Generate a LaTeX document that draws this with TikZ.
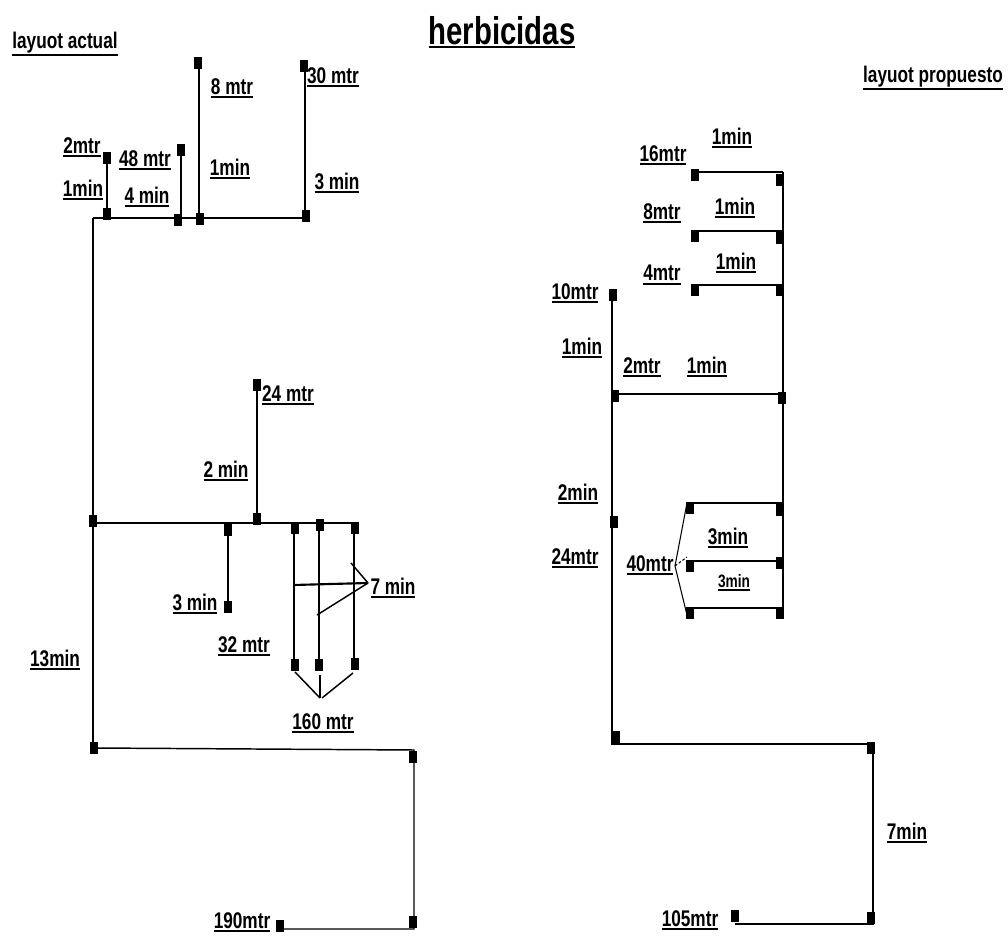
\documentclass[tikz,border=0pt]{standalone}
\usepackage{fontspec}
\newfontfamily\lf{Liberation Sans}[FakeStretch=0.76]
\newcommand\ul[1]{\setbox0\hbox{#1}\leavevmode\vtop{\copy0\kern1.2pt\hrule height 1.4pt}}
\tikzset{
  mk/.style={fill=black, draw=none, inner sep=0, minimum width=5.8pt, minimum height=9.5pt},
  lab/.style={inner sep=0, font=\lf\bfseries\fontsize{17}{19}\selectfont},
  sml/.style={inner sep=0, font=\lf\bfseries\fontsize{13.5}{15}\selectfont},
  thn/.style={line width=1.1pt},
  thk/.style={line width=2.2pt},
}
\begin{document}
\begin{tikzpicture}[x=0.75pt,y=-0.75pt]
\useasboundingbox[fill=white] (0,0) rectangle (1008,937);
% ---------- title ----------
\node[inner sep=0, font=\lf\bfseries\fontsize{29}{32}\selectfont] (title) at (502,32) {\ul{herbicidas}};
% ---------- layout actual ----------
\coordinate (a0) at (93,218); \coordinate (a1) at (306,218); \coordinate (a2) at (93,748);
\coordinate (b1) at (107,155); \coordinate (b1b) at (107,218);
\coordinate (b2) at (181,146); \coordinate (b2b) at (181,218);
\coordinate (b3) at (199,60);  \coordinate (b3b) at (199,218);
\coordinate (b4) at (305,62);  \coordinate (b4b) at (305,218);
\draw[thn] (a0) -- (a2);
\draw[thn] (a0) -- (a1);
\draw[thn] (b1b) -- (b1); \draw[thn] (b2b) -- (b2); \draw[thn] (b3b) -- (b3); \draw[thn] (b4b) -- (b4);
% middle
\coordinate (c0) at (93,523); \coordinate (c1) at (357,523);
\coordinate (c2) at (257,381); \coordinate (c2b) at (257,523);
\coordinate (c3) at (228,613); \coordinate (c3b) at (228,523);
\coordinate (v1t) at (294,523); \coordinate (v1b) at (294,665);
\coordinate (v2t) at (319,523); \coordinate (v2b) at (319,665);
\coordinate (v3t) at (354,523); \coordinate (v3b) at (354,665);
\draw[thn] (c0) -- (c1);
\draw[thn] (c2b) -- (c2); \draw[thn] (c3b) -- (c3);
\draw[thn] (v1t) -- (v1b); \draw[thn] (v2t) -- (v2b); \draw[thn] (v3t) -- (v3b);
\coordinate (sv) at (368,583);
\coordinate (s1) at (294,585); \coordinate (s2) at (351,563); \coordinate (s3) at (317,615);
\draw[line width=1.6pt] (s1) -- (sv);
\draw[thn] (s2) -- (sv); \draw[thn] (s3) -- (sv);
\coordinate (t0) at (320,698);
\coordinate (t1) at (295,672); \coordinate (t2) at (320,675); \coordinate (t3) at (353,673);
\draw[thn] (t1) -- (t0); \draw[thn] (t2) -- (t0); \draw[thn] (t3) -- (322,698);
% bottom
\coordinate (d1) at (414,750); \coordinate (d2) at (414,929); \coordinate (d3) at (280,929);
\draw[thn] (a2) -- (d1) -- (d2) -- (d3);
% markers left
\foreach \x/\y [count=\i] in {107/158,107/214,181/150,178/220,198/63,200/219,304/66,306/216,
  257/385,257/519,93/521,228/530,228/607,295/528,320/525,355/528,295/665,319/665,355/664,
  94/748,413/757,413/922,280/926}
  \node[mk] (ma\i) at (\x,\y) {};
% labels left
\node[lab] (la1) at (65,44) {\ul{layuot actual}};
\node[lab] (la2) at (82,147) {\ul{2mtr}};
\node[lab] (la3) at (83,190) {\ul{1min}};
\node[lab] (la4) at (145,160) {\ul{48 mtr}};
\node[lab] (la5) at (147,197) {\ul{4 min}};
\node[lab] (la6) at (232,88) {\ul{8 mtr}};
\node[lab] (la7) at (230,169) {\ul{1min}};
\node[lab] (la8) at (333,77) {\ul{30 mtr}};
\node[lab] (la9) at (337,183) {\ul{3 min}};
\node[lab] (la10) at (288,395) {\ul{24 mtr}};
\node[lab] (la11) at (226,471) {\ul{2 min}};
\node[lab] (la12) at (195,604) {\ul{3 min}};
\node[lab] (la13) at (244,646) {\ul{32 mtr}};
\node[lab] (la14) at (393,588) {\ul{7 min}};
\node[lab] (la15) at (323,723) {\ul{160 mtr}};
\node[lab] (la16) at (55,660) {\ul{13min}};
\node[lab] (la17) at (242,922) {\ul{190mtr}};
% ---------- layout propuesto ----------
\coordinate (r0) at (783,172); \coordinate (r1) at (783,617);
\draw[thk] (r0) -- (r1);
\foreach \x/\y [count=\i] in {695/172,695/231,695/285,613/394,690/503,690/561,690/608}
  { \coordinate (h\i) at (\x,\y); \coordinate (h\i e) at (783,\y); \draw[thk] (h\i) -- (h\i e); }
\coordinate (p0) at (612,290); \coordinate (p1) at (612,744);
\coordinate (p2) at (873,744); \coordinate (p3) at (873,924); \coordinate (p4) at (735,924);
\draw[thk] (p0) -- (p1) -- (p2) -- (p3) -- (p4);
\coordinate (q0) at (675,566);
\coordinate (q1) at (687,503); \coordinate (q2) at (687,557); \coordinate (q3) at (687,615);
\draw[line width=0.8pt] (q0) -- (q1); \draw[line width=0.8pt] (q0) -- (q3);
\draw[line width=0.8pt, dashed, dash pattern=on 2pt off 1.5pt] (q0) -- (q2);
\foreach \x/\y [count=\i] in {695/175,780/180,695/236,780/238,695/290,780/290,613/295,615/396,782/398,
  614/522,690/508,780/510,690/566,780/563,690/613,780/613,616/737,871/748,871/918,735/916}
  \node[mk] (mb\i) at (\x,\y) {};
\node[lab] (lb1) at (933,78) {\ul{layuot propuesto}};
\node[lab] (lb2) at (732,138) {\ul{1min}};
\node[lab] (lb3) at (663,155) {\ul{16mtr}};
\node[lab] (lb4) at (662,213) {\ul{8mtr}};
\node[lab] (lb5) at (735,208) {\ul{1min}};
\node[lab] (lb6) at (662,275) {\ul{4mtr}};
\node[lab] (lb7) at (736,263) {\ul{1min}};
\node[lab] (lb8) at (575,293) {\ul{10mtr}};
\node[lab] (lb9) at (582,348) {\ul{1min}};
\node[lab] (lb10) at (642,367) {\ul{2mtr}};
\node[lab] (lb11) at (707,367) {\ul{1min}};
\node[lab] (lb12) at (578,494) {\ul{2min}};
\node[lab] (lb13) at (575,558) {\ul{24mtr}};
\node[lab] (lb14) at (728,538) {\ul{3min}};
\node[sml] (lb15) at (734,583) {\ul{3min}};
\node[lab] (lb16) at (650,565) {\ul{40mtr}};
\node[lab] (lb17) at (907,833) {\ul{7min}};
\node[lab] (lb18) at (690,920) {\ul{105mtr}};
\end{tikzpicture}
\end{document}
